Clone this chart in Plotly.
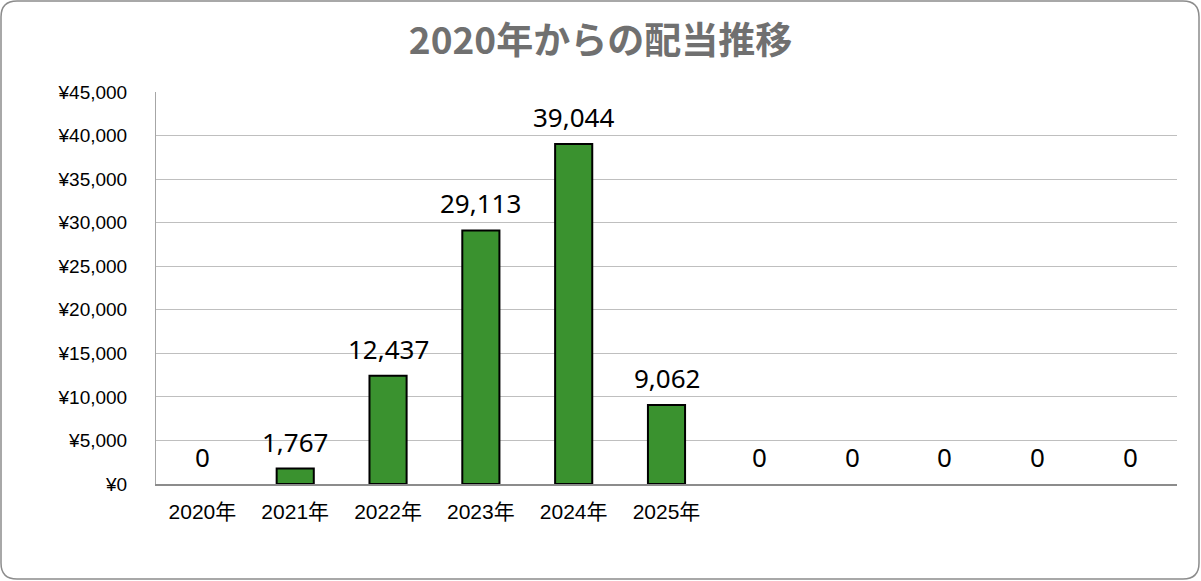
import plotly.graph_objects as go

# データ
categories = ["2020年", "2021年", "2022年", "2023年", "2024年", "2025年",
              "c7", "c8", "c9", "c10", "c11"]
tick_labels = ["2020年", "2021年", "2022年", "2023年", "2024年", "2025年",
               "", "", "", "", ""]
dividends = [0, 1767, 12437, 29113, 39044, 9062, 0, 0, 0, 0, 0]

W, H = 1201, 581
L, R, T, B = 156, 24, 92, 97
pw, ph = W - L - R, H - T - B


def px_to_paper(x, y):
    return (x - L) / pw, (H - B - y) / ph


def rounded_rect(x0, y0, x1, y1, r):
    # 角丸の外枠（ピクセル座標→paper座標）
    def p(x, y):
        a, b = px_to_paper(x, y)
        return f"{a:.5f},{b:.5f}"
    return " ".join([
        f"M{p(x0 + r, y0)}", f"L{p(x1 - r, y0)}", f"Q{p(x1, y0)} {p(x1, y0 + r)}",
        f"L{p(x1, y1 - r)}", f"Q{p(x1, y1)} {p(x1 - r, y1)}",
        f"L{p(x0 + r, y1)}", f"Q{p(x0, y1)} {p(x0, y1 - r)}",
        f"L{p(x0, y0 + r)}", f"Q{p(x0, y0)} {p(x0 + r, y0)} Z",
    ])


fig = go.Figure(go.Bar(
    x=categories, y=dividends,
    marker=dict(color="#3a922f",
                line=dict(color="#000000", width=[0 if v == 0 else 2 for v in dividends])),
    hoverinfo="x+y",
))

# データラベル（棒の上）
for c, v in zip(categories, dividends):
    fig.add_annotation(x=c, y=v, text=f"{v:,}", showarrow=False,
                       yanchor="bottom", yshift=7,
                       font=dict(family="Noto Sans", size=26, color="#000000"))

fig.update_layout(
    width=W, height=H,
    margin=dict(l=L, r=R, t=T, b=B),
    paper_bgcolor="white", plot_bgcolor="white",
    showlegend=False,
    bargap=0.6,
    title=dict(text="<b>2020年からの配当推移</b>", x=0.5, xref="container", y=0.929, yref="container",
               xanchor="center", yanchor="middle",
               font=dict(family="Noto Sans CJK JP", size=37, color="#707070")),
    font=dict(family="Liberation Sans", size=19, color="#000000"),
    shapes=[dict(type="path", xref="paper", yref="paper",
                 path=rounded_rect(1, 1, W - 2, H - 2, 16),
                 line=dict(color="#8c8c8c", width=1.5), layer="below")],
)

fig.update_xaxes(
    tickmode="array", tickvals=categories, ticktext=tick_labels,
    showline=True, linecolor="#8c8c8c", linewidth=1.5,
    showgrid=False, ticks="", ticklabelstandoff=8,
    tickfont=dict(family="Liberation Sans, Noto Sans CJK JP", size=21),
)
fig.update_yaxes(
    range=[0, 45000], dtick=5000, tickprefix="¥", tickformat=",",
    showgrid=True, gridcolor="#bfbfbf", gridwidth=1,
    showline=True, linecolor="#a6a6a6", linewidth=1,
    zeroline=False, ticks="", ticklabelstandoff=24,
    tickfont=dict(family="Liberation Sans", size=19),
)

fig.write_html("out.html", config={"displayModeBar": False},
               post_script="document.body.style.margin='0';")
